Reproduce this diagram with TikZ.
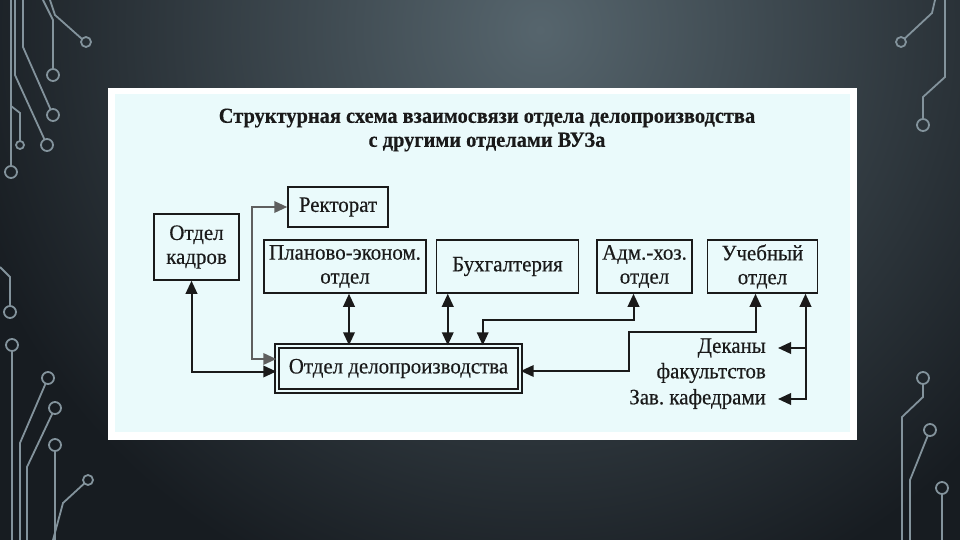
\documentclass[tikz,border=0pt]{standalone}
\usepackage{fontspec}
\setmainfont{Liberation Serif}[FakeStretch=0.95, FakeBold=0.4]
\frenchspacing
\definecolor{slideDark}{HTML}{171C21}
\definecolor{slideLight}{HTML}{56656D}
\definecolor{traceGrey}{HTML}{83939C}
\definecolor{panelBlue}{HTML}{EAFAFB}
\definecolor{inkBlack}{HTML}{1A1A1A}
\usetikzlibrary{arrows.meta, positioning}
\tikzset{
    dept box/.style={rectangle, draw=inkBlack, line width=1.5pt, fill=panelBlue, align=center, inner sep=1pt,
        font=\fontsize{22}{24}\selectfont, text=inkBlack},
    main box/.style={dept box, double=panelBlue, double distance=2.4pt, line width=1.4pt},
    side text/.style={anchor=east, inner sep=0pt, font=\fontsize{22}{24}\selectfont, text=inkBlack},
    link arrow/.style={-{Triangle[length=13pt, width=11.5pt]}, line width=2pt, inkBlack},
    both arrow/.style={{Triangle[length=13pt, width=11.5pt]}-{Triangle[length=13pt, width=11.5pt]}, line width=2pt, inkBlack},
    trace/.style={draw=traceGrey, line width=1.8pt},
}

\begin{document}
\begin{tikzpicture}[x=1pt, y=-1pt]
        \useasboundingbox (0,0) rectangle (960,540);
        \fill[slideDark] (0,0) rectangle (960,540);
        \begin{scope}
            \clip (0,0) rectangle (960,540);
            \shade[inner color=slideLight, outer color=slideDark] (540,30) circle (600pt);
        \end{scope}

        % circuit traces
        \draw[trace] (50,0) -- (55,15) -- (82,39);  \draw[trace] (86,42) circle (5pt);
        \draw[trace] (43,0) -- (53,20) -- (53,69);  \draw[trace] (53,75) circle (6pt);
        \draw[trace] (23,0) -- (23,47) -- (50.6,109.5);  \draw[trace] (53,115) circle (6pt);
        \draw[trace] (15,0) -- (15,75) -- (44.5,139.5);  \draw[trace] (47,145) circle (6pt);
        \draw[trace] (11,106) -- (20,113) -- (20,141);  \draw[trace] (20,145) circle (4pt);
        \draw[trace] (11,0) -- (11,166);  \draw[trace] (11,172) circle (6pt);
        \draw[trace] (0,267) -- (10,277) -- (10,306);  \draw[trace] (10,312) circle (6pt);
        \draw[trace] (12,351) -- (12,540);  \draw[trace] (12,345) circle (6pt);
        \draw[trace] (20,540) -- (20,443) -- (45.6,383.5);  \draw[trace] (48,378) circle (6pt);
        \draw[trace] (27,540) -- (27,467) -- (52.4,413.4);  \draw[trace] (55,408) circle (6pt);
        \draw[trace] (55,451) -- (55,540);  \draw[trace] (55,445) circle (6pt);
        \draw[trace] (53,540) -- (63,503) -- (84.3,483.4);  \draw[trace] (88,480) circle (5pt);
        \draw[trace] (935,0) -- (932,13) -- (904.6,38.6);  \draw[trace] (901,42) circle (5pt);
        \draw[trace] (945,0) -- (945,77) -- (923,97) -- (923,119);  \draw[trace] (923,125) circle (6pt);
        \draw[trace] (902,540) -- (902,417) -- (923,397) -- (923,384);  \draw[trace] (923,378) circle (6pt);
        \draw[trace] (910,540) -- (910,480) -- (927.8,435.6);  \draw[trace] (930,430) circle (6pt);
        \draw[trace] (942,494) -- (942,540);  \draw[trace] (942,488) circle (6pt);

        % panel
        \fill[white] (108,88) rectangle (857,440);
        \fill[panelBlue] (115,94) rectangle (850,432);

        \node[align=center, text=inkBlack, font=\bfseries\fontsize{21.5}{24}\selectfont] (title) at (487,130)
            {Структурная схема взаимосвязи отдела делопроизводства\\с другими отделами ВУЗа};

        \node[dept box, minimum width=100pt, minimum height=40pt] (rektorat) at (338,207) {Ректорат};
        \node[dept box, minimum width=85pt, minimum height=66pt] (kadry) at (196.5,247) {Отдел\\кадров};
        \node[dept box, minimum width=162pt, minimum height=53pt] (plan) at (345,266.5) {Планово-эконом.\\отдел};
        \node[dept box, minimum width=142pt, minimum height=53pt, right=9pt of plan] (buh) {Бухгалтерия};
        \node[dept box, minimum width=95pt, minimum height=53pt, right=17pt of buh] (adm) {Адм.-хоз.\\отдел};
        \node[dept box, minimum width=110pt, minimum height=53pt, right=14pt of adm] (ucheb) {Учебный\\отдел};
        \node[main box, minimum width=243pt, minimum height=45pt] (delo) at (398.5,368.5) {Отдел делопроизводства};

        \node[side text] (dek1) at (766,348) {Деканы};
        \node[side text] (dek2) at (766,373) {факультстов};
        \node[side text] (zav) at (766,399) {Зав. кафедрами};

        \coordinate (bend) at (629,332);
        \coordinate (rline) at ([xshift=43pt]ucheb.south);

        \draw[both arrow] ([xshift=-5pt]kadry.south) |- ([yshift=-3pt]delo.west);
        \draw[both arrow, inkBlack!70] ([yshift=9.5pt]delo.west) -- ++(-24pt,0) |- (rektorat.west);
        \draw[both arrow] ([xshift=4pt]plan.south) -- ([xshift=4pt]plan.south |- delo.north);
        \draw[both arrow] ([xshift=12pt]buh.south west) -- ([xshift=12pt]buh.south west |- delo.north);
        \draw[both arrow] ([xshift=-11pt]adm.south) -- ++(0,-26pt) -| ([xshift=-38pt]delo.north east);
        \draw[both arrow] ([xshift=-7pt]ucheb.south) |- (bend) |- ([yshift=-2.5pt]delo.east);
        \draw[both arrow] (rline) |- ([xshift=12pt]zav.east);
        \draw[link arrow] (rline |- dek1.east) -- ([xshift=12pt]dek1.east);
    \end{tikzpicture}
\end{document}
